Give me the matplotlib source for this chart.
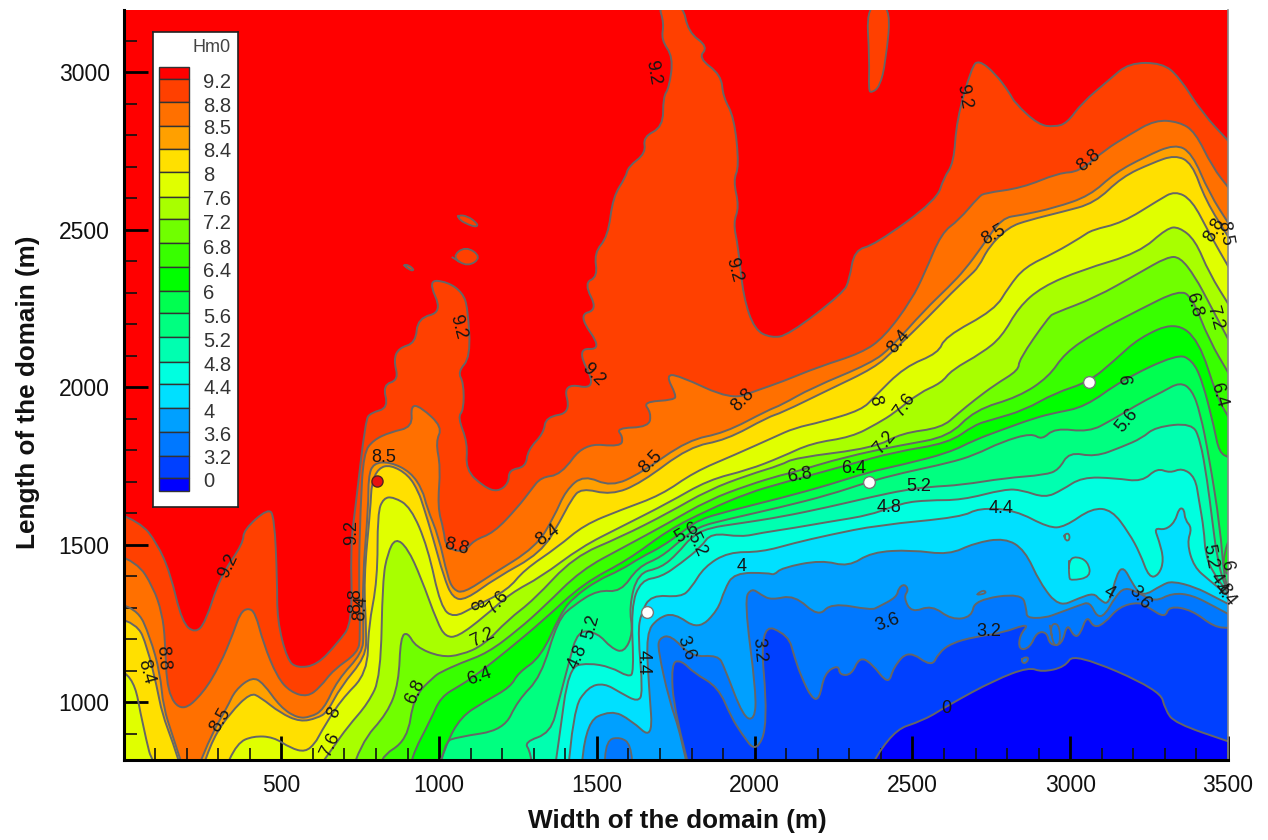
#!/usr/bin/env python3

import matplotlib
matplotlib.use('Agg')
import matplotlib.pyplot as plt
from matplotlib.path import Path
from matplotlib.patches import PathPatch

plt.rcParams['font.family'] = ['Liberation Sans', 'DejaVu Sans']

# --- contour lines, x and y in metres ---

c92_x = [-20, 53, 106, 148, 186, 227, 259, 306, 380, 380, 459, 478, 487, 487, 519, 551, 614, 678, 726, 719, 735, 767, 783, 840, 821, 872, 856, 872, 926, 932, 1011, 964, 1027, 1075, 1091, 1100, 1059, 1078, 1078, 1059, 1091, 1084, 1142, 1186, 1221, 1221, 1275, 1281, 1332, 1338, 1418, 1392, 1503, 1434, 1519, 1440, 1503, 1459, 1503, 1491, 1535, 1551, 1592, 1599, 1656, 1646, 1710, 1710, 1729, 1742, 1704, 1713, 1694, 1773, 1789, 1853, 1821, 1894, 1900, 1935, 1951, 1932, 1951, 1932, 1948, 1964, 2000, 2053, 2107, 2281, 2300, 2316, 2380, 2577, 2599, 2631, 2640, 2688, 2710, 2761, 2808, 2824, 2900, 2951, 2990, 3037, 3123, 3186, 3291, 3345, 3418, 3507]
c92_y = [1600, 1572, 1505, 1410, 1251, 1219, 1251, 1397, 1505, 1546, 1616, 1587, 1388, 1260, 1133, 1108, 1118, 1187, 1251, 1492, 1619, 1895, 1918, 1934, 2007, 2022, 2086, 2124, 2140, 2219, 2238, 2340, 2334, 2299, 2251, 2095, 2048, 2013, 1927, 1905, 1822, 1737, 1683, 1667, 1695, 1737, 1746, 1800, 1854, 1905, 1918, 2013, 1991, 2124, 2118, 2229, 2245, 2330, 2350, 2426, 2477, 2604, 2667, 2699, 2743, 2794, 2826, 2921, 2950, 3048, 3102, 3156, 3215, 3215, 3127, 3080, 3045, 2991, 2921, 2857, 2699, 2657, 2572, 2521, 2445, 2286, 2181, 2156, 2165, 2299, 2340, 2435, 2451, 2594, 2664, 2711, 2848, 3016, 3038, 2997, 2934, 2902, 2832, 2826, 2838, 2902, 2975, 3029, 3029, 2985, 2870, 2775]

c88_x = [-20, 43, 94, 122, 132, 138, 186, 253, 306, 348, 370, 395, 418, 443, 487, 529, 583, 624, 665, 742, 751, 745, 751, 761, 792, 846, 916, 910, 942, 1011, 989, 1005, 995, 1015, 1021, 1078, 1110, 1173, 1250, 1291, 1323, 1386, 1459, 1576, 1583, 1561, 1665, 1672, 1646, 1745, 1751, 1719, 1757, 1926, 2012, 2085, 2202, 2339, 2411, 2497, 2539, 2592, 2647, 2710, 2729, 2847, 2964, 3028, 3110, 3186, 3269, 3345, 3396, 3450, 3507]
c88_y = [1467, 1445, 1365, 1283, 1197, 1029, 968, 1029, 1118, 1219, 1283, 1299, 1283, 1187, 1079, 1032, 1016, 1048, 1102, 1156, 1207, 1388, 1619, 1791, 1832, 1857, 1873, 1943, 1937, 1873, 1826, 1746, 1619, 1546, 1492, 1473, 1514, 1537, 1619, 1673, 1714, 1721, 1822, 1810, 1841, 1870, 1873, 1918, 1953, 1959, 1975, 2038, 2038, 1959, 1991, 2016, 2064, 2108, 2159, 2276, 2362, 2489, 2530, 2604, 2616, 2632, 2680, 2683, 2753, 2800, 2848, 2842, 2810, 2699, 2626]

c85_x = [-20, 43, 84, 116, 126, 157, 196, 227, 281, 329, 354, 408, 443, 497, 551, 592, 634, 678, 757, 761, 757, 776, 776, 792, 846, 910, 948, 961, 999, 1027, 1046, 1078, 1164, 1307, 1364, 1402, 1459, 1545, 1640, 1789, 1904, 2043, 2085, 2180, 2370, 2434, 2539, 2615, 2666, 2720, 2783, 2847, 2951, 3062, 3142, 3237, 3332, 3386, 3440, 3507]
c85_y = [1314, 1299, 1207, 1092, 984, 889, 768, 768, 902, 984, 1038, 1080, 1060, 984, 949, 952, 975, 1070, 1156, 1219, 1388, 1619, 1715, 1759, 1762, 1730, 1673, 1619, 1524, 1397, 1356, 1346, 1403, 1492, 1587, 1673, 1721, 1683, 1727, 1832, 1854, 1927, 1943, 1997, 2076, 2127, 2245, 2318, 2372, 2445, 2537, 2546, 2569, 2607, 2680, 2731, 2772, 2743, 2616, 2511]

c84_x = [-20, 43, 75, 106, 122, 157, 189, 243, 284, 338, 402, 433, 497, 560, 614, 646, 688, 767, 770, 761, 783, 786, 808, 846, 903, 935, 951, 980, 1015, 1043, 1084, 1180, 1323, 1386, 1418, 1450, 1545, 1640, 1792, 1910, 2043, 2085, 2234, 2380, 2443, 2551, 2624, 2678, 2710, 2742, 2805, 2869, 2974, 3078, 3164, 3259, 3332, 3386, 3428, 3507]
c84_y = [1267, 1251, 1175, 1048, 964, 870, 768, 768, 886, 965, 1029, 1016, 965, 937, 949, 968, 1048, 1143, 1219, 1388, 1619, 1695, 1743, 1753, 1721, 1667, 1619, 1524, 1397, 1330, 1324, 1394, 1473, 1578, 1641, 1680, 1657, 1695, 1810, 1832, 1905, 1918, 1991, 2061, 2118, 2223, 2299, 2350, 2381, 2445, 2508, 2530, 2556, 2584, 2667, 2711, 2737, 2711, 2594, 2467]

c80_x = [-20, 30, 62, 100, 313, 360, 411, 475, 529, 576, 608, 624, 688, 773, 776, 805, 805, 824, 856, 910, 964, 1005, 1046, 1110, 1218, 1269, 1376, 1459, 1576, 1704, 1808, 1935, 2062, 2126, 2212, 2339, 2380, 2475, 2583, 2602, 2761, 2805, 2856, 2951, 3037, 3069, 3164, 3281, 3332, 3386, 3440, 3507]
c80_y = [1102, 1092, 921, 768, 768, 870, 892, 889, 854, 841, 870, 902, 1006, 1092, 1238, 1388, 1600, 1648, 1651, 1619, 1492, 1302, 1267, 1302, 1356, 1419, 1492, 1562, 1610, 1657, 1730, 1784, 1841, 1870, 1889, 1927, 1969, 2064, 2108, 2159, 2245, 2318, 2381, 2426, 2477, 2499, 2521, 2594, 2623, 2594, 2489, 2372]

c76_x = [602, 665, 710, 776, 815, 821, 837, 862, 900, 942, 995, 1021, 1059, 1142, 1227, 1323, 1450, 1576, 1726, 1853, 1980, 2085, 2180, 2307, 2392, 2443, 2520, 2592, 2624, 2720, 2783, 2837, 2910, 3037, 3218, 3307, 3345, 3396, 3440, 3507]
c76_y = [768, 857, 921, 997, 1080, 1388, 1473, 1521, 1489, 1397, 1251, 1207, 1207, 1270, 1346, 1397, 1492, 1556, 1632, 1705, 1737, 1778, 1822, 1841, 1886, 1918, 1981, 2013, 2054, 2108, 2159, 2254, 2318, 2372, 2426, 2505, 2508, 2467, 2362, 2254]

c72_x = [719, 751, 837, 872, 878, 900, 926, 1005, 1069, 1142, 1218, 1300, 1427, 1576, 1726, 1853, 1980, 2085, 2126, 2380, 2466, 2592, 2647, 2697, 2761, 2837, 2837, 2932, 2951, 3078, 3218, 3307, 3348, 3396, 3440, 3507]
c72_y = [768, 870, 965, 1060, 1207, 1222, 1175, 1143, 1149, 1181, 1261, 1324, 1461, 1524, 1600, 1673, 1721, 1753, 1775, 1807, 1854, 1870, 1918, 1959, 2007, 2054, 2086, 2223, 2235, 2283, 2362, 2413, 2413, 2350, 2267, 2140]

c68_x = [805, 808, 900, 919, 983, 1005, 1069, 1154, 1250, 1332, 1450, 1586, 1726, 1853, 1980, 2085, 2126, 2285, 2466, 2615, 2697, 2837, 2932, 2983, 3078, 3218, 3345, 3386, 3440, 3507]
c68_y = [768, 822, 879, 1016, 1080, 1095, 1124, 1156, 1229, 1302, 1419, 1492, 1568, 1641, 1689, 1721, 1730, 1778, 1816, 1842, 1927, 1969, 2032, 2108, 2172, 2245, 2308, 2286, 2149, 2035]

c64_x = [903, 910, 973, 1005, 1069, 1110, 1218, 1332, 1459, 1599, 1726, 1853, 1980, 2085, 2297, 2443, 2615, 2697, 2751, 2856, 2951, 3059, 3142, 3218, 3332, 3408, 3465, 3507]
c64_y = [768, 822, 943, 1016, 1054, 1080, 1165, 1261, 1378, 1451, 1546, 1610, 1664, 1695, 1753, 1794, 1822, 1880, 1896, 1927, 1981, 2016, 2086, 2156, 2207, 2149, 1968, 1895]

c60_x = [989, 1021, 1069, 1142, 1227, 1250, 1323, 1386, 1427, 1503, 1576, 1640, 1704, 1767, 1821, 1904, 2085, 2234, 2361, 2466, 2615, 2697, 2783, 2888, 2951, 3047, 3164, 3339, 3386, 3418, 3456, 3472, 3507]
c60_y = [768, 864, 953, 1000, 1048, 1092, 1143, 1283, 1333, 1387, 1419, 1460, 1492, 1537, 1578, 1603, 1648, 1689, 1730, 1753, 1791, 1832, 1864, 1902, 1918, 1937, 2022, 2105, 2086, 2022, 1873, 1791, 1775]

c56_x = [999, 1015, 1059, 1205, 1250, 1323, 1376, 1427, 1503, 1576, 1630, 1704, 1767, 1821, 1904, 2085, 2234, 2361, 2466, 2615, 2697, 2783, 2878, 2910, 2951, 3059, 3132, 3228, 3291, 3348, 3386, 3412, 3440, 3475, 3488, 3507]
c56_y = [768, 873, 889, 911, 1006, 1080, 1261, 1308, 1356, 1349, 1429, 1460, 1515, 1556, 1578, 1619, 1657, 1699, 1727, 1759, 1784, 1826, 1854, 1832, 1870, 1857, 1895, 1953, 1984, 2016, 1991, 1918, 1778, 1556, 1388, 1349]

c52_x = [1300, 1291, 1269, 1354, 1380, 1411, 1440, 1503, 1545, 1586, 1615, 1602, 1630, 1704, 1757, 1799, 1853, 1958, 2085, 2234, 2370, 2475, 2551, 2656, 2793, 2920, 2964, 2996, 3078, 3164, 3228, 3269, 3386, 3412, 3434, 3450, 3465, 3488, 3507]
c52_y = [768, 841, 873, 902, 1006, 1124, 1229, 1219, 1172, 1156, 1219, 1302, 1410, 1426, 1473, 1524, 1553, 1568, 1588, 1619, 1651, 1673, 1683, 1689, 1711, 1721, 1737, 1794, 1778, 1810, 1838, 1873, 1886, 1832, 1705, 1578, 1461, 1372, 1343]

c48_x = [1364, 1380, 1411, 1472, 1545, 1599, 1618, 1608, 1640, 1704, 1767, 1830, 1862, 1958, 2021, 2126, 2234, 2370, 2466, 2551, 2656, 2793, 2847, 2920, 2974, 3037, 3142, 3228, 3275, 3316, 3355, 3396, 3408, 3424, 3428, 3450, 3507]
c48_y = [768, 880, 1111, 1124, 1111, 1080, 1092, 1302, 1387, 1397, 1441, 1492, 1537, 1524, 1537, 1553, 1572, 1594, 1632, 1641, 1641, 1676, 1673, 1648, 1673, 1714, 1711, 1699, 1743, 1727, 1743, 1714, 1641, 1546, 1473, 1413, 1337]

c44_x = [1408, 1424, 1472, 1523, 1576, 1630, 1646, 1630, 1640, 1672, 1767, 1799, 1840, 1916, 2021, 2126, 2234, 2392, 2656, 2710, 2824, 2932, 2983, 3069, 3132, 3186, 3221, 3250, 3281, 3297, 3281, 3266, 3301, 3332, 3345, 3361, 3364, 3386, 3370, 3392, 3440, 3507]
c44_y = [768, 975, 1048, 1060, 1029, 1000, 1029, 1219, 1283, 1340, 1333, 1362, 1429, 1476, 1476, 1505, 1530, 1562, 1587, 1616, 1610, 1553, 1556, 1616, 1610, 1537, 1473, 1394, 1403, 1451, 1514, 1553, 1546, 1572, 1616, 1613, 1578, 1553, 1505, 1429, 1387, 1333]

c40_x = [1450, 1459, 1545, 1608, 1678, 1665, 1656, 1694, 1745, 1821, 1884, 1904, 1935, 2043, 2062, 2085, 2212, 2297, 2370, 2497, 2615, 2697, 2793, 2856, 2904, 2964, 3028, 3075, 3094, 3123, 3148, 3170, 3196, 3228, 3291, 3323, 3396, 3459, 3507]
c40_y = [768, 933, 975, 943, 879, 1048, 1219, 1267, 1283, 1229, 1292, 1356, 1410, 1410, 1403, 1426, 1451, 1429, 1476, 1483, 1467, 1505, 1521, 1483, 1378, 1302, 1330, 1346, 1324, 1308, 1410, 1429, 1378, 1333, 1372, 1384, 1365, 1333, 1308]

c36_x = [1792, 1767, 1729, 1694, 1697, 1735, 1799, 1884, 1904, 1964, 2000, 2005, 1967, 1990, 2021, 2053, 2126, 2202, 2243, 2370, 2392, 2450, 2456, 2475, 2488, 2472, 2497, 2561, 2624, 2688, 2697, 2847, 2862, 2862, 2920, 2964, 3031, 3062, 3085, 3110, 3142, 3173, 3218, 3269, 3323, 3386, 3459, 3507]
c36_y = [768, 895, 1006, 1165, 1203, 1213, 1143, 1149, 1111, 952, 943, 1029, 1324, 1362, 1340, 1324, 1340, 1270, 1315, 1292, 1302, 1333, 1362, 1375, 1356, 1333, 1283, 1308, 1261, 1270, 1324, 1346, 1292, 1267, 1267, 1283, 1308, 1318, 1270, 1276, 1333, 1365, 1346, 1318, 1346, 1340, 1302, 1276]

c32_x = [1799, 1745, 1735, 1767, 1808, 1884, 1926, 1957, 2005, 2043, 2015, 2107, 2126, 2148, 2180, 2205, 2221, 2266, 2269, 2307, 2332, 2370, 2424, 2440, 2488, 2561, 2583, 2624, 2697, 2783, 2872, 2840, 2837, 2872, 2894, 2926, 2935, 2974, 2990, 3012, 3031, 3053, 3075, 3110, 3154, 3218, 3250, 3301, 3313, 3386, 3456, 3507]
c32_y = [768, 965, 1124, 1133, 1092, 1048, 952, 902, 838, 933, 1251, 1213, 1143, 1080, 1013, 1007, 1092, 1118, 1086, 1086, 1143, 1124, 1054, 1111, 1165, 1111, 1156, 1187, 1207, 1219, 1251, 1213, 1165, 1172, 1222, 1222, 1181, 1181, 1251, 1207, 1213, 1276, 1235, 1251, 1302, 1318, 1299, 1267, 1305, 1292, 1238, 1235]

c00_x = [2354, 2424, 2539, 2615, 2761, 2869, 2910, 2983, 3012, 3285, 3301, 3332, 3507]
c00_y = [768, 905, 943, 991, 1070, 1111, 1095, 1111, 1156, 1038, 975, 933, 873]

# closed pockets inside the bands
tongue_x = [2354, 2364, 2361, 2370, 2396, 2415, 2433]
tongue_y = [3215, 3038, 2943, 2934, 2953, 3029, 3215]
pocket_a_x = [1059, 1091, 1123, 1119, 1094, 1065]
pocket_a_y = [2546, 2543, 2518, 2508, 2515, 2530]
pocket_b_x = [1040, 1084, 1135, 1091]
pocket_b_y = [2413, 2448, 2413, 2381]
pocket_c_x = [887, 903, 922, 910]
pocket_c_y = [2388, 2388, 2372, 2369]
strip_x = [3507, 3488, 3485, 3507]
strip_y = [1529, 1473, 1420, 1397]
low_arc_x = [1523, 1529, 1576, 1608, 1615]
low_arc_y = [768, 880, 889, 864, 768]
blob_a_x = [2996, 3018, 3056, 3066, 3002, 2996]
blob_a_y = [1450, 1463, 1447, 1397, 1385, 1397]
blob_b_x = [2980, 2996, 2999, 2986]
blob_b_y = [1531, 1537, 1515, 1511]
bit_a_x = [2704, 2726, 2735, 2710]
bit_a_y = [1343, 1356, 1346, 1340]
bit_b_x = [2935, 2964, 2970, 2948]
bit_b_y = [1245, 1251, 1187, 1175]
bit_c_x = [2847, 2869, 2862, 2847]
bit_c_y = [1140, 1143, 1124, 1124]

# Hm0 levels and colours, top of the legend first
levels = ['9.2', '8.8', '8.5', '8.4', '8', '7.6', '7.2', '6.8', '6.4', '6', '5.6', '5.2', '4.8', '4.4', '4', '3.6', '3.2', '0']
band_colors = ['#ff0000', '#ff4000', '#ff7000', '#ffa000', '#ffe000', '#e0ff00', '#a8ff00', '#70ff00', '#38ff00', '#00ff00',
               '#00ff50', '#00ff80', '#00ffb0', '#00ffe0', '#00e0ff', '#00a0ff', '#0078ff', '#0040ff', '#0000ff']

# label text, x, y, rotation
line_labels = [('9.2', 1678, 3000, -80), ('9.2', 332, 1432, 65), ('9.2', 722, 1537, 90), ('9.2', 1059, 2191, -75),
               ('9.2', 1488, 2038, -45), ('9.2', 1935, 2372, -75), ('9.2', 2662, 2921, -80), ('8.8', 126, 1140, -85),
               ('8.4', 72, 1095, -75), ('8.5', 307, 943, 60), ('8.5', 824, 1775, 0), ('8.8', 735, 1321, 90),
               ('8.4', 751, 1299, 85), ('8', 668, 968, 65), ('7.6', 656, 864, 65), ('6.8', 926, 1032, 65),
               ('8.8', 1056, 1492, -15), ('8', 1110, 1308, -70), ('7.6', 1186, 1315, 50), ('7.2', 1138, 1203, 25),
               ('6.4', 1126, 1080, 20), ('8.4', 1345, 1530, 35), ('8.5', 1672, 1762, 45), ('5.2', 1481, 1238, 75),
               ('4.8', 1440, 1143, 65), ('6.4', 2313, 1743, 0), ('6.8', 2142, 1721, 10), ('8.8', 1964, 1959, 45),
               ('5.6', 1786, 1537, 30), ('5.2', 1815, 1499, -65), ('4', 1958, 1429, 0), ('4.4', 1646, 1127, -90),
               ('3.6', 1783, 1172, -70), ('3.2', 2012, 1165, -85), ('3.6', 2421, 1254, 20), ('3.2', 2742, 1225, 0),
               ('0', 2608, 981, 0), ('4', 3123, 1346, -30), ('3.6', 3221, 1330, -50), ('4.8', 2427, 1619, 0),
               ('4.4', 2780, 1616, 0), ('5.2', 2520, 1683, 0), ('7.2', 2411, 1822, 50), ('8', 2380, 1956, -75),
               ('7.6', 2475, 1943, 55), ('8.4', 2456, 2143, 50), ('8.5', 2758, 2483, 30), ('8.8', 3059, 2718, 40),
               ('8.8', 3459, 2499, 60), ('8.5', 3491, 2489, -80), ('6.8', 3392, 2261, -75), ('7.2', 3459, 2219, -75),
               ('6.4', 3469, 1975, -75), ('6', 3167, 2022, -85), ('5.6', 3180, 1895, 50), ('5.2', 3443, 1461, -80),
               ('4.8', 3475, 1372, -55), ('6', 3495, 1435, -80), ('4.4', 3490, 1340, -50)]

# measuring points
red_x, red_y = [802], [1702]
white_x = [1659, 2361, 3059]
white_y = [1286, 1699, 2016]

x_ticks = [500, 1000, 1500, 2000, 2500, 3000, 3500]
y_ticks = [1000, 1500, 2000, 2500, 3000]

# legend layout, in pixels
legend_edges = [67, 79, 102, 126, 149, 172, 197, 219, 243, 267, 291, 313, 337, 362, 384, 408, 432, 456, 478, 491]
legend_text_y = [82, 106, 128, 151, 175, 199, 223, 248, 271, 293, 317, 341, 365, 388, 412, 435, 458, 481]

contours = [(c92_x, c92_y), (c88_x, c88_y), (c85_x, c85_y), (c84_x, c84_y), (c80_x, c80_y), (c76_x, c76_y),
            (c72_x, c72_y), (c68_x, c68_y), (c64_x, c64_y), (c60_x, c60_y), (c56_x, c56_y), (c52_x, c52_y),
            (c48_x, c48_y), (c44_x, c44_y), (c40_x, c40_y), (c36_x, c36_y), (c32_x, c32_y), (c00_x, c00_y)]

# pocket x, y and the colour it is filled with
pockets = [(tongue_x, tongue_y, '#ff4000'), (pocket_a_x, pocket_a_y, '#ff4000'), (pocket_b_x, pocket_b_y, '#ff4000'),
           (pocket_c_x, pocket_c_y, '#ff4000'), (strip_x, strip_y, '#00ff00'), (low_arc_x, low_arc_y, '#0078ff'),
           (blob_a_x, blob_a_y, '#00ffe0'), (blob_b_x, blob_b_y, '#00ffe0'), (bit_a_x, bit_a_y, '#00a0ff'),
           (bit_b_x, bit_b_y, '#0078ff'), (bit_c_x, bit_c_y, '#0078ff')]

line_color = '#666666'
W, H = 1268, 840


# read points become control points of quadratic curves, so corners come out round
def curve_path(xs, ys, closed=False, tail=()):
    pts = list(zip(xs, ys))
    if closed:
        pts = pts + pts[:1]
        start = ((pts[0][0] + pts[-2][0]) / 2, (pts[0][1] + pts[-2][1]) / 2)
        verts, codes = [start], [Path.MOVETO]
        inner = pts[0:]
    else:
        verts, codes = [pts[0]], [Path.MOVETO]
        inner = pts[1:-1]
    for i, p in enumerate(inner):
        nxt = inner[i + 1] if i + 1 < len(inner) else pts[-1]
        mid = ((p[0] + nxt[0]) / 2, (p[1] + nxt[1]) / 2)
        verts += [p, mid]
        codes += [Path.CURVE3, Path.CURVE3]
    if not closed:
        verts.append(pts[-1])
        codes.append(Path.LINETO)
    for p in tail:
        verts.append(p)
        codes.append(Path.LINETO)
    return Path(verts, codes)


fig = plt.figure(figsize=(W / 100, H / 100), dpi=100)
ax = fig.add_axes([123.5 / W, (H - 760) / H, (1228 - 123.5) / W, 750 / H])
ax.set_facecolor(band_colors[0])

# every band is painted over the one above it, top level first
for (cx, cy), col in zip(contours, band_colors[1:]):
    tail = [(3520, cy[-1]), (3520, 760), (cx[0], 760), (cx[0], cy[0])]
    ax.add_patch(PathPatch(curve_path(cx, cy, tail=tail), fc=col, ec='none', lw=0, zorder=1))
for cx, cy, col in pockets:
    ax.add_patch(PathPatch(curve_path(cx, cy, closed=True), fc=col, ec=line_color, lw=1.3, zorder=1.5))

for cx, cy in contours:
    ax.add_patch(PathPatch(curve_path(cx, cy), fc='none', ec=line_color, lw=1.4, zorder=2))

for txt, lx, ly, rot in line_labels:
    ax.text(lx, ly, txt, rotation=rot, ha='center', va='center', fontsize=13, color='#151515',
            rotation_mode='anchor', zorder=3, clip_on=False)

ax.plot(red_x, red_y, 'o', ms=8, mfc='#e81010', mec='#552020', mew=1, zorder=4)
ax.plot(white_x, white_y, 'o', ms=8.5, mfc='white', mec='#777777', mew=1, zorder=4)

ax.set_xlim(0, 3500)
ax.set_ylim(816, 3197)
ax.set_xticks(x_ticks)
ax.set_yticks(y_ticks)
ax.set_xticks(range(100, 3500, 100), minor=True)
ax.set_yticks(range(900, 3200, 100), minor=True)
ax.tick_params(which='major', direction='in', length=17, width=2, labelsize=16.5, pad=10)
ax.tick_params(which='minor', direction='in', length=9, width=1.2, colors='#111111')
for lab in ax.get_xticklabels() + ax.get_yticklabels():
    lab.set_color('#111111')

ax.spines['top'].set_visible(False)
ax.spines['left'].set_linewidth(2.2)
ax.spines['bottom'].set_linewidth(2.2)
ax.spines['right'].set_color('#888888')
ax.spines['right'].set_linewidth(1.2)

fig.text(677 / W, (H - 821) / H, 'Width of the domain (m)', fontsize=18.8, fontweight='bold', color='#111111',
         ha='center', va='center')
fig.text(28 / W, (H - 392) / H, 'Length of the domain (m)', fontsize=18.8, fontweight='bold', color='#111111',
         ha='center', va='center', rotation=90)

# legend box
leg = fig.add_axes([153 / W, (H - 507) / H, 85 / W, 475 / H], zorder=5)
leg.set_xlim(153, 238)
leg.set_ylim(507, 32)
leg.set_xticks([])
leg.set_yticks([])
for side in leg.spines.values():
    side.set_color('#222222')
    side.set_linewidth(1.2)
heights = [b - a for a, b in zip(legend_edges[:-1], legend_edges[1:])]
leg.bar([174] * len(heights), heights, bottom=legend_edges[:-1], width=30, color=band_colors,
        edgecolor='#333333', linewidth=1)
for txt, ty in zip(levels, legend_text_y):
    leg.text(203, ty, txt, fontsize=14.5, color='#333333', ha='left', va='center')
leg.text(231, 47, 'Hm0', fontsize=13, color='#444444', ha='right', va='center')

fig.savefig('out.png', dpi=100)
plt.close()
